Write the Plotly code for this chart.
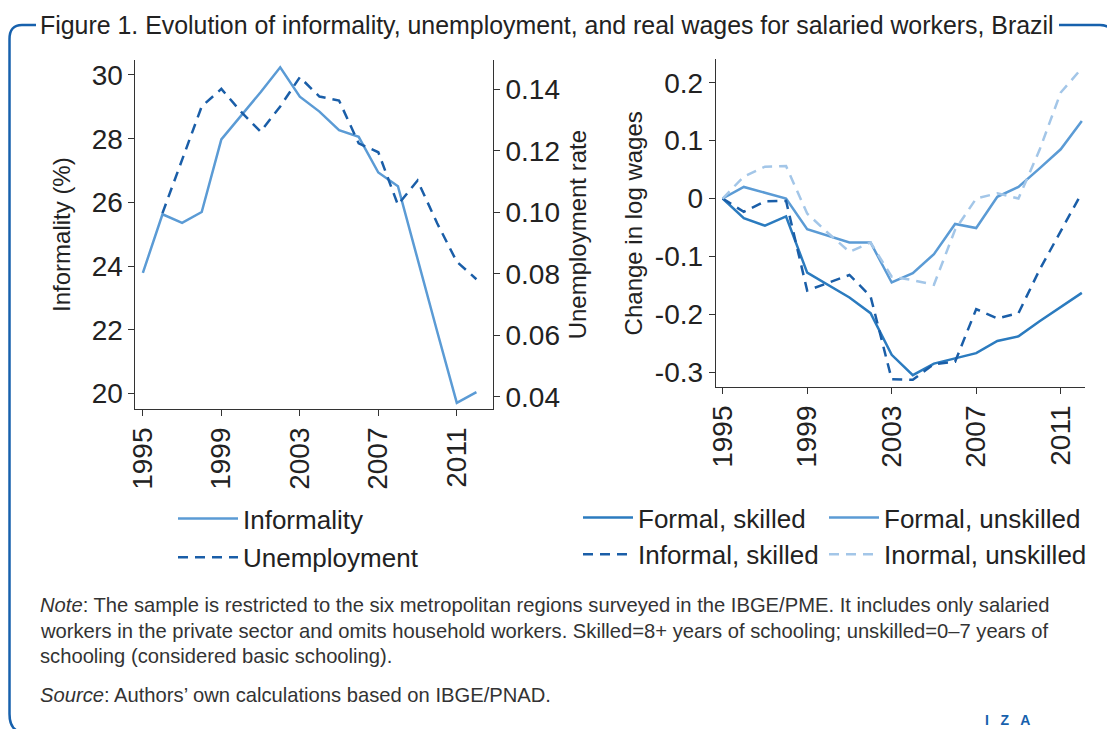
import plotly.graph_objects as go

# ---------------- data ----------------
years = list(range(1995, 2013))

informality = [23.79, 25.63, 25.36, 25.70, 27.98, 28.72, 29.46, 30.24, 29.32, 28.85,
               28.27, 28.06, 26.94, 26.51, 24.20, 21.95, 19.71, 20.05]

unemp_years = list(range(1996, 2013))
unemployment = [0.0997, 0.117, 0.1344, 0.1401, 0.1327, 0.1262, 0.1344, 0.1439, 0.1376,
                0.1363, 0.1224, 0.1195, 0.1024, 0.1103, 0.0964, 0.0839, 0.0782]

formal_skilled = [0.0, -0.034, -0.047, -0.031, -0.128, -0.149, -0.171, -0.198, -0.270,
                  -0.305, -0.285, -0.276, -0.267, -0.246, -0.238, -0.212, -0.188, -0.163]
formal_unskilled = [0.0, 0.020, 0.010, 0.000, -0.053, -0.064, -0.076, -0.076, -0.145,
                    -0.129, -0.096, -0.044, -0.051, 0.003, 0.020, 0.052, 0.085, 0.134]
informal_skilled = [0.0, -0.023, -0.005, -0.004, -0.159, -0.146, -0.132, -0.169, -0.312,
                    -0.313, -0.286, -0.282, -0.191, -0.207, -0.198, -0.123, -0.057, 0.010]
informal_unskilled = [0.0, 0.038, 0.055, 0.056, -0.026, -0.060, -0.092, -0.076, -0.135,
                      -0.141, -0.149, -0.054, 0.000, 0.009, 0.000, 0.084, 0.183, 0.225]

year_ticks = [1995, 1999, 2003, 2007, 2011]
left_ticks = [20, 22, 24, 26, 28, 30]
right_ticks = [0.04, 0.06, 0.08, 0.10, 0.12, 0.14]
wage_ticks = [-0.3, -0.2, -0.1, 0, 0.1, 0.2]
wage_tick_labels = ["-0.3", "-0.2", "-0.1", "0", "0.1", "0.2"]

# ---------------- style ----------------
# page offset: the html body adds an 8px margin around the figure
OFF = 8
W, H = 1115 - OFF, 729 - OFF
TXT = "#222222"
AX = "#333333"
FRAME = "#1761ad"
C_LIGHT = "#5b9bd5"
C_DARK = "#1a5ea8"
C_MID = "#2b7bbf"
C_PALE = "#a3c6e8"
FONT = "Liberation Sans"
DASH = "10px,7px"


def fx(x):
    return (x - OFF) / W


def fy(y):
    return 1 - (y - OFF) / H


fig = go.Figure()

fig.add_trace(go.Scatter(x=years, y=informality, mode="lines", name="Informality",
                         line=dict(color=C_LIGHT, width=2.5), xaxis="x", yaxis="y",
                         legend="legend", legendgroup="a"))
fig.add_trace(go.Scatter(x=unemp_years, y=unemployment, mode="lines", name="Unemployment",
                         line=dict(color=C_DARK, width=2.5, dash=DASH),
                         xaxis="x", yaxis="y2", legend="legend", legendgroup="b"))

fig.add_trace(go.Scatter(x=years, y=formal_skilled, mode="lines", name="Formal, skilled",
                         line=dict(color=C_MID, width=2.5), xaxis="x3", yaxis="y3",
                         legend="legend2"))
fig.add_trace(go.Scatter(x=years, y=formal_unskilled, mode="lines", name="Formal, unskilled",
                         line=dict(color=C_LIGHT, width=2.5), xaxis="x3", yaxis="y3",
                         legend="legend3"))
fig.add_trace(go.Scatter(x=years, y=informal_skilled, mode="lines", name="Informal, skilled",
                         line=dict(color=C_DARK, width=2.5, dash=DASH),
                         xaxis="x3", yaxis="y3", legend="legend2"))
fig.add_trace(go.Scatter(x=years, y=informal_unskilled, mode="lines", name="Inormal, unskilled",
                         line=dict(color=C_PALE, width=2.5, dash=DASH),
                         xaxis="x3", yaxis="y3", legend="legend3"))

axis_common = dict(showline=True, linecolor=AX, linewidth=1, showgrid=False, zeroline=False,
                   ticks="outside", ticklen=6, tickcolor=AX, tickwidth=1,
                   tickfont=dict(size=28, color=TXT, family=FONT), automargin=False)

legend_common = dict(xref="paper", yref="paper", xanchor="left", yanchor="top",
                     font=dict(size=26, color=TXT, family=FONT),
                     bgcolor="rgba(0,0,0,0)")

fig.update_layout(
    width=W, height=H,
    margin=dict(l=0, r=0, t=0, b=0, autoexpand=False),
    paper_bgcolor="white", plot_bgcolor="white",
    font=dict(family=FONT, color=TXT),
    xaxis=dict(axis_common, domain=[fx(135.4), fx(492.9)], range=[1994.62, 2012.84],
               tickvals=year_ticks, tickangle=-90, anchor="y"),
    yaxis=dict(axis_common, domain=[fy(409.3), fy(60)], range=[19.51, 30.47],
               tickvals=left_ticks, anchor="x",
               title=dict(text="Informality (%)", font=dict(size=24, color=TXT), standoff=14)),
    yaxis2=dict(axis_common, overlaying="y", side="right", anchor="x",
                range=[0.0359, 0.1495], tickvals=right_ticks, tickformat=".2f",
                title=dict(text="Unemployment rate", font=dict(size=24, color=TXT), standoff=10)),
    xaxis3=dict(axis_common, domain=[fx(715.7), fx(1085)], range=[1994.67, 2012.15],
                tickvals=year_ticks, tickangle=-90, anchor="y3"),
    yaxis3=dict(axis_common, domain=[fy(387.3), fy(59.3)], range=[-0.326, 0.2404],
                tickvals=wage_ticks, ticktext=wage_tick_labels, anchor="x3",
                title=dict(text="Change in log wages", font=dict(size=24, color=TXT), standoff=5)),
    legend=dict(legend_common, x=fx(173), y=fy(495), itemwidth=60, tracegroupgap=2),
    legend2=dict(legend_common, x=fx(578), y=fy(494), itemwidth=50),
    legend3=dict(legend_common, x=fx(824), y=fy(494), itemwidth=50),
    showlegend=True,
)

# ---------------- frame & texts ----------------
p = lambda x, y: "%.5f,%.5f" % (fx(x), fy(y))
left_frame = "M %s L %s Q %s %s L %s Q %s %s" % (
    p(36, 25), p(22, 25), p(9.5, 25), p(9.5, 39), p(9.5, 714), p(9.5, 729), p(20, 732))
right_frame = "M %s L %s Q %s %s" % (p(1059, 25), p(1100, 25), p(1110, 25), p(1114, 34))
for d in (left_frame, right_frame):
    fig.add_shape(type="path", path=d, xref="paper", yref="paper",
                  line=dict(color=FRAME, width=2.5))

fig.add_annotation(text="Figure 1. Evolution of informality, unemployment, and real wages for salaried workers, Brazil",
                   x=fx(38), y=fy(25), xref="paper", yref="paper", xanchor="left",
                   yanchor="middle", showarrow=False,
                   font=dict(size=24.9, color=TXT, family=FONT))

note_lines = [
    "<i>Note</i>: The sample is restricted to the six metropolitan regions surveyed in the IBGE/PME. It includes only salaried",
    "workers in the private sector and omits household workers. Skilled=8+ years of schooling; unskilled=0\u20137 years of",
    "schooling (considered basic schooling).",
]
for i, line in enumerate(note_lines):
    fig.add_annotation(text=line, x=fx(38), y=fy(605 + 25.5 * i), xref="paper",
                       yref="paper", xanchor="left", yanchor="middle", showarrow=False,
                       font=dict(size=20.2, color="#333333", family=FONT))
fig.add_annotation(text="<i>Source</i>: Authors\u2019 own calculations based on IBGE/PNAD.",
                   x=fx(38), y=fy(695), xref="paper", yref="paper", xanchor="left",
                   yanchor="middle", showarrow=False,
                   font=dict(size=20.2, color="#333333", family=FONT))
fig.add_annotation(text="<b>I   Z   A</b>", x=fx(1007), y=fy(720), xref="paper",
                   yref="paper", xanchor="center", yanchor="middle", showarrow=False,
                   font=dict(size=14, color=FRAME, family=FONT))

fig.write_html("out.html")
